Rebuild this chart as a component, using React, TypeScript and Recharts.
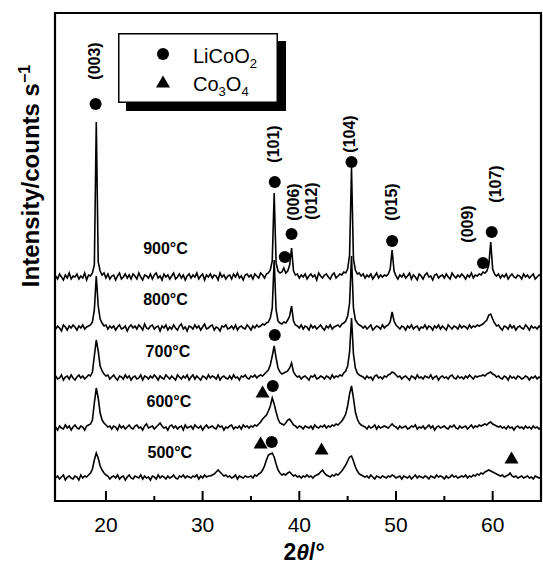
import React from 'react';
import { ComposedChart, Line, Scatter, XAxis, YAxis, ReferenceArea } from 'recharts';

const FONT = '"Liberation Sans", Arial, Helvetica, sans-serif';

// scan grid: 14.8 .. 65.0 deg 2theta, 0.2 deg step
const angleStart = 14.8;
const angleStep = 0.2;

const temperatures = ['900', '800', '700', '600', '500'];
const stackOffsets = [224, 173, 123, 73, 23];

// intensities (above its own baseline)
const i900 = [
  1, -2, 3, 0, -3, 2, -1, 4, -2, 1,
  0, 3, -2, 1, -1, 4, -3, 2, 1, 4,
  12, 155, 15, 6, 2, 4, -1, 3, -2, 1,
  2, -3, 1, 4, -2, 0, 3, -1, 2, -2,
  3, 1, -2, 4, 0, -3, 2, 1, -1, 3,
  -2, 2, 4, -1, 1, -3, 3, 0, 2, -2,
  1, 4, -2, 0, 3, -1, 2, -3, 1, 3,
  -1, 2, 0, 4, -2, 1, 3, -3, 2, 0,
  3, -1, 2, 1, -3, 4, 0, 2, -2, 1,
  2, -2, 3, 0, 4, -1, 1, -3, 2, 3,
  0, 2, -2, 3, 1, -1, 4, 2, -1, 3,
  4, 7, 16, 84, 14, 6, 4, 5, 9, 4,
  6, 12, 29, 6, 2, 3, -1, 2, 0, 3,
  -2, 1, 3, 0, 2, -3, 4, 1, -1, 2,
  3, 0, -2, 2, 4, -1, 1, 3, 2, 5,
  4, 8, 22, 109, 18, 7, 3, 4, 1, 3,
  -1, 2, 0, 3, -2, 1, 4, -1, 2, 0,
  2, 1, 3, 8, 27, 6, 1, -2, 2, 0,
  3, -1, 1, 4, -2, 2, 0, -3, 3, 1,
  -2, 2, 4, 0, 1, -3, 2, 3, -1, 1,
  2, -1, 3, 0, -2, 4, 1, -1, 2, 0,
  3, 1, -2, 2, 0, 4, -1, 2, 1, 3,
  2, 5, 4, 6, 12, 35, 8, 3, 1, 3,
  -1, 2, 0, 3, -2, 1, 3, 0, -1, 2,
  1, -2, 3, 0, 2, -1, 1, 3, -2, 0,
  2, 1,
];

const i800 = [
  -1, 2, 0, -3, 3, 1, -2, 2, 0, 3,
  1, -2, 2, 0, 3, -1, 1, 2, 3, 6,
  18, 52, 22, 9, 5, 2, 3, -1, 2, 0,
  2, -2, 1, 3, -1, 0, 2, -3, 1, 3,
  0, 2, -1, 3, 1, -2, 4, 0, -1, 2,
  3, -1, 1, 2, -3, 2, 0, 3, -2, 1,
  -1, 3, 0, -2, 2, 4, -1, 1, -3, 2,
  1, -1, 3, 0, 2, -2, 1, 4, -1, 0,
  2, 3, -2, 1, 0, -3, 2, 1, 3, -1,
  0, 2, -1, 3, -2, 1, 2, 0, -1, 3,
  1, -2, 2, 0, 3, 1, 2, 4, 3, 5,
  6, 10, 20, 68, 18, 7, 5, 4, 6, 5,
  8, 12, 22, 7, 3, 2, 0, 3, -1, 2,
  1, -2, 3, 0, 2, -1, 1, 3, 0, -2,
  2, 0, 3, -1, 1, 2, 3, 1, 4, 5,
  7, 12, 25, 72, 20, 8, 5, 3, 2, 0,
  2, -1, 1, 3, -2, 0, 2, 1, -1, 3,
  0, 2, 3, 6, 16, 7, 3, 1, -1, 2,
  1, -2, 2, 0, 3, -1, 1, 2, -2, 1,
  0, 3, -1, 2, 1, -2, 2, 0, 3, -1,
  2, 0, -2, 3, 1, -1, 2, 1, -1, 3,
  0, 2, 1, -1, 3, 0, 2, 1, 3, 2,
  3, 4, 6, 8, 13, 14, 9, 5, 2, 3,
  0, -2, 2, 1, -1, 3, 0, 2, -2, 1,
  2, 0, -1, 3, 1, -2, 2, 0, 1, -1,
  2, 0,
];

const i700 = [
  2, -1, 0, 3, -2, 1, 2, -1, 3, 0,
  -2, 1, 3, 0, 2, -1, 1, 3, 2, 6,
  22, 38, 27, 12, 7, 4, 2, 3, -1, 1,
  3, 0, -2, 2, 1, -1, 3, 0, 2, -2,
  1, 2, -1, 0, 3, -2, 2, 1, -1, 2,
  0, 3, 1, -2, 2, 0, -1, 3, 1, -1,
  2, 0, -2, 3, 1, -1, 2, 0, 3, -2,
  1, 3, -1, 2, 0, -2, 2, 1, -1, 3,
  0, 2, 1, -1, 3, -2, 1, 2, 0, -1,
  2, -1, 3, 0, 1, -2, 2, 1, 3, 0,
  -1, 2, 1, 3, 0, 2, 3, 2, 4, 6,
  8, 13, 22, 32, 20, 10, 6, 4, 5, 6,
  7, 10, 15, 6, 3, 1, 2, -1, 1, 2,
  0, -2, 2, 1, 3, -1, 0, 2, 1, -1,
  2, 1, -1, 3, 0, 2, 1, 3, 2, 5,
  7, 12, 26, 60, 24, 10, 5, 3, 2, 1,
  -1, 2, 0, 1, -2, 2, 3, 0, 1, -1,
  2, 1, 3, 4, 6, 5, 3, 1, 2, -1,
  1, 2, 0, -2, 2, 1, -1, 3, 0, 1,
  -1, 2, 1, 0, 3, -1, 1, 2, -2, 1,
  2, 0, 1, -1, 2, 3, 0, -1, 2, 0,
  1, -1, 2, 0, 3, 1, -1, 2, 1, 2,
  2, 3, 2, 4, 5, 6, 4, 3, 1, 2,
  0, -1, 2, 1, -2, 2, 0, 1, -1, 2,
  1, -1, 0, 2, 1, -2, 1, 0, 2, -1,
  1, 0,
];

const i600 = [
  1, -2, 2, 0, -1, 3, 0, 2, -2, 1,
  3, 0, -1, 2, 1, -2, 2, 3, 4, 8,
  25, 40, 30, 15, 8, 5, 3, 1, 2, -1,
  2, 1, -2, 3, 0, 2, -1, 1, 3, 0,
  -1, 2, 3, 0, 1, -2, 2, 4, 0, 1,
  2, -1, 1, 3, 5, 2, 0, 1, -2, 2,
  3, 0, 2, -1, 1, 2, -2, 3, 0, 1,
  2, -1, 3, 1, 0, 2, -2, 1, 3, 0,
  1, 2, 0, -1, 3, 1, 2, -2, 1, 0,
  2, 3, -1, 1, 0, 2, -1, 3, 1, 2,
  0, 2, 1, 3, 2, 4, 6, 9, 11, 13,
  17, 22, 30, 24, 16, 9, 5, 4, 3, 5,
  8, 9, 6, 3, 2, 0, 2, 1, -1, 2,
  1, 0, 2, -1, 3, 1, 0, 2, 1, 3,
  0, 2, 1, 3, 2, 4, 3, 5, 7, 10,
  14, 22, 34, 42, 30, 16, 9, 5, 3, 2,
  1, -1, 2, 0, 1, 3, -1, 2, 0, 1,
  2, 1, 0, 2, 4, 2, 1, -1, 2, 0,
  1, 2, -1, 0, 2, 1, 3, -1, 1, 0,
  2, -1, 1, 3, 0, 2, -2, 1, 2, 0,
  1, 2, 0, -1, 2, 1, 3, 0, -1, 2,
  0, 1, 2, -1, 1, 3, 0, 2, 1, 3,
  2, 3, 4, 3, 5, 6, 4, 3, 2, 1,
  2, 0, 1, -1, 2, 0, 1, -2, 1, 2,
  0, 1, -1, 2, 0, 1, -1, 2, 0, 1,
  -1, 1,
];

const i500 = [
  0, 2, -1, 1, 3, -2, 1, 2, 0, -1,
  2, 1, -2, 3, 0, 2, 1, 3, 5, 9,
  18, 25, 20, 12, 8, 5, 3, 2, -1, 1,
  2, 0, 3, -1, 1, 2, -2, 1, 3, 0,
  -1, 2, 1, 0, 3, -1, 2, 0, 1, -2,
  2, 1, -1, 3, 0, 2, 1, -1, 2, 0,
  1, 3, 0, -1, 2, 1, 3, 0, 2, 1,
  0, 2, 1, 3, -1, 2, 0, 3, 1, 2,
  2, 3, 4, 6, 8, 6, 4, 2, 3, 1,
  2, 0, 1, 3, -1, 2, 1, 0, 2, 1,
  1, 2, 0, 3, 2, 4, 5, 8, 12, 18,
  23, 24, 25, 21, 14, 8, 5, 3, 4, 3,
  5, 6, 4, 2, 3, 1, 2, 0, 2, 1,
  3, 1, 2, 0, 2, 3, 4, 6, 8, 5,
  3, 2, 1, 3, 2, 4, 3, 5, 7, 10,
  13, 17, 21, 22, 17, 11, 7, 4, 3, 2,
  1, 2, 0, 3, 1, -1, 2, 1, 0, 2,
  1, 0, 2, 1, 3, 2, 0, 1, 2, -1,
  2, 1, 0, 2, -1, 1, 3, 0, 2, 1,
  0, 2, 1, -1, 2, 1, 0, 3, 1, 2,
  1, -1, 2, 0, 1, 3, 1, 2, 0, 1,
  2, 1, 3, 0, 2, 1, 3, 2, 4, 3,
  5, 4, 6, 7, 8, 7, 6, 5, 4, 3,
  2, 3, 1, 2, 3, 5, 2, 1, 2, 0,
  1, 2, 0, 1, 2, 0, 1, -1, 2, 1,
  0, 1,
];

const patterns = [i900, i800, i700, i600, i500];

// phase markers (2theta, stacked intensity)
const licoo2Marks = [
  { x: 18.93, y: 397 }, { x: 37.46, y: 319 }, { x: 38.5, y: 244 }, { x: 39.2, y: 267 },
  { x: 45.4, y: 339 }, { x: 49.6, y: 260 }, { x: 59.0, y: 238 }, { x: 59.9, y: 269 },
  { x: 37.46, y: 166 }, { x: 37.26, y: 115 }, { x: 37.15, y: 59 },
];
const co3o4Marks = [
  { x: 36.2, y: 109 }, { x: 36.0, y: 58 }, { x: 42.3, y: 52 }, { x: 61.95, y: 43 },
];

const hklLabels = [
  { x: 18.83, y: 440, text: '(003)' }, { x: 37.36, y: 357, text: '(101)' },
  { x: 45.22, y: 367, text: '(104)' }, { x: 39.43, y: 299, text: '(006)' },
  { x: 41.29, y: 300, text: '(012)' }, { x: 49.57, y: 299, text: '(015)' },
  { x: 57.44, y: 277, text: '(009)' }, { x: 60.34, y: 317, text: '(107)' },
];

const tempLabelX = [23.85, 23.85, 24.1, 24.2, 24.3];
const tempLabelY = [247, 196, 144, 94, 43];

const majorTicks = [20, 30, 40, 50, 60];
const allTicks = [20, 25, 30, 35, 40, 45, 50, 55, 60];

const rows = i900.map((_, i) => {
  const row: Record<string, number> = { x: +(angleStart + angleStep * i).toFixed(1) };
  temperatures.forEach((t, k) => {
    row['t' + t] = patterns[k][i] + stackOffsets[k];
  });
  return row;
});

const tempLabels = temperatures.map((t, k) => ({ x: tempLabelX[k], y: tempLabelY[k], text: `${t}°C` }));

const AngleTick = (props: any) => {
  const { x, y, payload } = props;
  const major = majorTicks.includes(payload.value);
  return (
    <g>
      <line x1={x} x2={x} y1={y} y2={y - (major ? 10 : 5)} stroke="#000" strokeWidth={2} />
      {major && (
        <text x={x} y={y + 31} textAnchor="middle" fontSize={21} fontFamily={FONT} fill="#000">
          {payload.value}
        </text>
      )}
    </g>
  );
};

const XTitle = ({ viewBox }: any) => (
  <text x={viewBox.x + 249} y={viewBox.y + 59} textAnchor="middle" fontSize={23} fontWeight="bold" fontFamily={FONT} fill="#000">
    2<tspan fontStyle="italic">θ</tspan>/°
  </text>
);

// boxed legend with a solid drop shadow, drawn in the chart svg
const PhaseLegend = ({ left, top }: { left: number; top: number }) => (
  <g transform={`translate(${left},${top})`}>
    <path d="M159.25,8H168V78H8V69.25H159.25Z" fill="#000" stroke="none" />
    <rect x={0.75} y={0.75} width={158.5} height={68.5} fill="#fff" stroke="#000" strokeWidth={1.5} />
    <circle cx={45} cy={21} r={6} fill="#000" />
    <path d="M45,42.5L52,54.5L38,54.5Z" fill="#000" />
    <text x={75} y={30} fontSize={20} fontFamily={FONT} fill="#000">
      LiCoO<tspan dy={5} fontSize={13}>2</tspan>
    </text>
    <text x={75} y={58} fontSize={20} fontFamily={FONT} fill="#000">
      Co<tspan dy={5} fontSize={13}>3</tspan><tspan dy={-5} fontSize={20}>O</tspan><tspan dy={5} fontSize={13}>4</tspan>
    </text>
  </g>
);

const YTitle = ({ viewBox }: any) => {
  const cx = 39;
  const cy = viewBox.y + 163;
  return (
    <g>
      <text transform={`rotate(-90 ${cx} ${cy})`} x={cx} y={cy} textAnchor="middle" fontSize={24} fontWeight="bold" fontFamily={FONT} fill="#000">
        Intensity/counts s<tspan dy={-9} fontSize={16}>−1</tspan>
      </text>
      <PhaseLegend left={viewBox.x + 118} top={viewBox.y + 20} />
    </g>
  );
};

const DotShape = ({ cx, cy }: any) => <circle cx={cx} cy={cy} r={6} fill="#000" />;
const TriShape = ({ cx, cy }: any) => (
  <path d={`M${cx},${cy - 6.5}L${cx + 7},${cy + 5.5}L${cx - 7},${cy + 5.5}Z`} fill="#000" />
);
const HklShape = ({ cx, cy, payload }: any) => (
  <text transform={`rotate(-90 ${cx} ${cy})`} x={cx} y={cy} textAnchor="middle" dominantBaseline="central"
    fontSize={16} fontWeight="bold" fontFamily={FONT} fill="#000">
    {payload.text}
  </text>
);
const TempShape = ({ cx, cy, payload }: any) => (
  <text x={cx} y={cy} fontSize={16} fontWeight="bold" fontFamily={FONT} fill="#000">
    {payload.text}
  </text>
);

export default function App() {
  return (
    <div style={{ position: 'absolute', left: 0, top: 0, width: 543, height: 566, background: '#fff' }}>
      <ComposedChart width={543} height={566} data={rows} margin={{ top: 13, right: 2, bottom: 0, left: 0 }}>
        <XAxis
          type="number"
          dataKey="x"
          domain={[14.73, 65]}
          allowDataOverflow
          ticks={allTicks}
          interval={0}
          tick={<AngleTick />}
          tickLine={false}
          axisLine={false}
          tickSize={0}
          tickMargin={0}
          height={65}
          label={<XTitle />}
        />
        <YAxis
          type="number"
          domain={[0, 488]}
          allowDataOverflow
          width={55}
          tick={false}
          tickLine={false}
          axisLine={false}
          label={<YTitle />}
        />
        {temperatures.map((t) => (
          <Line
            key={t}
            dataKey={'t' + t}
            type="linear"
            stroke="#000"
            strokeWidth={1.6}
            dot={false}
            isAnimationActive={false}
          />
        ))}
        <Scatter data={licoo2Marks} dataKey="y" shape={<DotShape />} isAnimationActive={false} />
        <Scatter data={co3o4Marks} dataKey="y" shape={<TriShape />} isAnimationActive={false} />
        <Scatter data={hklLabels} dataKey="y" shape={<HklShape />} isAnimationActive={false} />
        <Scatter data={tempLabels} dataKey="y" shape={<TempShape />} isAnimationActive={false} />
        <ReferenceArea x1={14.73} x2={65} y1={0} y2={488} fill="none" stroke="#000" strokeWidth={2.2} ifOverflow="visible" />
      </ComposedChart>
    </div>
  );
}
